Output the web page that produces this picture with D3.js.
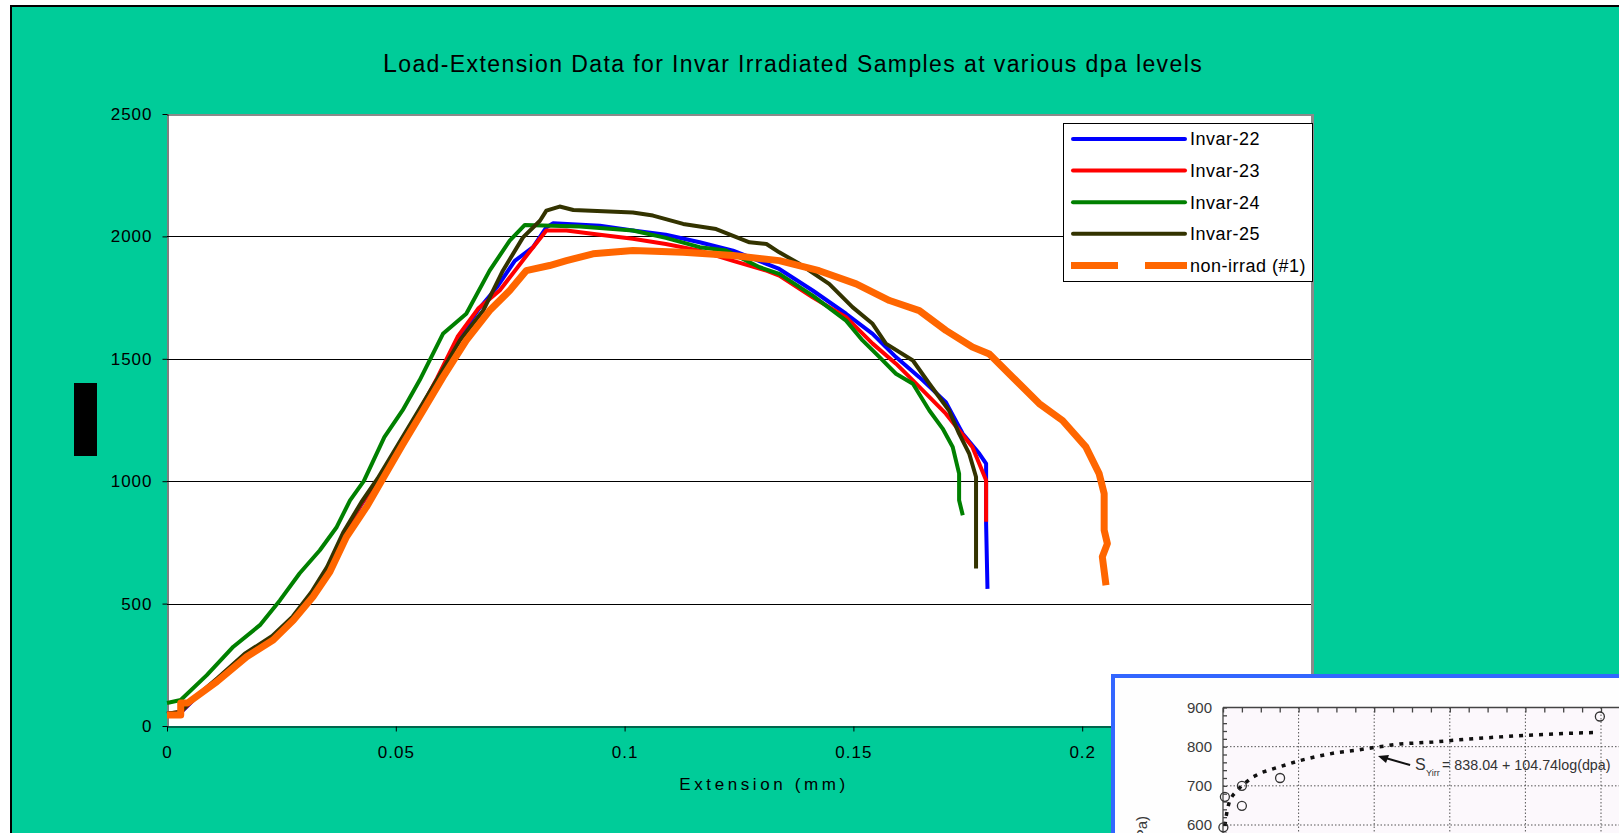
<!DOCTYPE html>
<html>
<head>
<style>
body { margin: 0; background: #fff; }
text { font-family: "Liberation Sans", Arial, sans-serif; }
</style>
<script src="https://d3js.org/d3.v7.min.js"></script>
</head>
<body>
<svg id="chart" width="1619" height="833"></svg>
<script>
// tick values
var xTicks = [0, 0.05, 0.1, 0.15, 0.2, 0.25];
var yTicks = [0, 500, 1000, 1500, 2000, 2500];
var gridValues = [500, 1000, 1500, 2000];

var seriesNames = ["Invar-22", "Invar-23", "Invar-24", "Invar-25", "non-irrad (#1)"];
var seriesColors = ["#0000ff", "#ff0000", "#008000", "#333300", "#ff6600"];

// extension (mm), load
var invar22 = [[0,50],[0.003,55],[0.006,110],[0.011,190],[0.017,290],[0.023,360],[0.0275,440],[0.0315,535],[0.035,640],[0.0385,780],[0.0425,905],[0.046,1000],[0.0505,1140],[0.055,1280],[0.0595,1420],[0.064,1590],[0.068,1700],[0.072,1790],[0.076,1900],[0.08,1956],[0.0829,2037],[0.0844,2054],[0.0946,2044],[0.1018,2024],[0.109,2007],[0.1164,1976],[0.1237,1942],[0.131,1888],[0.1338,1867],[0.1411,1779],[0.1484,1684],[0.1542,1602],[0.1593,1507],[0.1644,1425],[0.1702,1323],[0.1739,1194],[0.1775,1113],[0.179,1072],[0.179,1004],[0.179,827],[0.1793,560]];
var invar23 = [[0,50],[0.003,57],[0.006,112],[0.011,192],[0.017,292],[0.023,362],[0.0275,442],[0.0315,538],[0.035,642],[0.0385,782],[0.0425,908],[0.046,1002],[0.0505,1142],[0.055,1282],[0.059,1420],[0.0635,1590],[0.068,1705],[0.0727,1779],[0.08,1956],[0.0829,2024],[0.0873,2024],[0.0946,2007],[0.1018,1990],[0.109,1969],[0.1164,1942],[0.1237,1900],[0.131,1860],[0.1338,1840],[0.1411,1751],[0.1484,1670],[0.1542,1562],[0.1593,1480],[0.163,1412],[0.1702,1276],[0.176,1140],[0.179,1004],[0.179,834]];
var invar24 = [[0,94],[0.003,106],[0.0087,208],[0.0145,324],[0.0203,412],[0.0247,514],[0.029,624],[0.0334,718],[0.0371,813],[0.04,922],[0.043,1000],[0.0475,1180],[0.0515,1290],[0.0552,1412],[0.0603,1602],[0.0654,1684],[0.0705,1860],[0.0749,1983],[0.0782,2047],[0.0902,2040],[0.1018,2024],[0.109,1994],[0.1164,1956],[0.1222,1942],[0.1295,1874],[0.1338,1847],[0.1411,1758],[0.1484,1656],[0.152,1575],[0.1557,1507],[0.1593,1439],[0.163,1398],[0.1666,1289],[0.1695,1215],[0.1717,1140],[0.1731,1031],[0.1731,922],[0.1739,861]];
var invar25 = [[0,50],[0.003,58],[0.006,115],[0.011,195],[0.017,295],[0.023,368],[0.0275,448],[0.0315,545],[0.035,650],[0.0385,790],[0.0425,915],[0.046,1010],[0.0505,1150],[0.055,1290],[0.0589,1412],[0.064,1575],[0.0691,1697],[0.0734,1860],[0.0778,1996],[0.0815,2064],[0.0829,2105],[0.0858,2122],[0.0888,2108],[0.1018,2098],[0.1062,2085],[0.1128,2051],[0.12,2030],[0.1273,1976],[0.131,1969],[0.1338,1935],[0.1382,1888],[0.1447,1806],[0.1498,1711],[0.1542,1643],[0.1571,1562],[0.163,1493],[0.1666,1398],[0.1709,1289],[0.1731,1194],[0.1753,1113],[0.1768,1017],[0.1768,643]];
var nonIrrad = [[0,45],[0.003,45],[0.003,94],[0.0045,94],[0.0109,181],[0.0174,283],[0.0232,351],[0.0276,432],[0.0319,528],[0.0356,630],[0.0392,772],[0.0436,895],[0.047,1005],[0.0515,1150],[0.056,1290],[0.0603,1425],[0.0654,1575],[0.0705,1697],[0.0749,1779],[0.0785,1860],[0.0836,1881],[0.0873,1901],[0.0931,1929],[0.1018,1942],[0.1128,1935],[0.1237,1922],[0.1338,1901],[0.1425,1860],[0.1506,1806],[0.1579,1738],[0.1644,1697],[0.1702,1616],[0.176,1548],[0.1797,1520],[0.1848,1425],[0.1906,1317],[0.1957,1248],[0.2008,1140],[0.2037,1031],[0.2048,949],[0.2048,800],[0.2055,745],[0.2044,691],[0.2052,575]];

// pasted picture: yield stress vs dpa
var insetYTicks = [600, 700, 800, 900];
var insetGrid = [0.2, 0.4, 0.6, 0.8, 1.0];
var fitDpa    = [0.005,0.008,0.012,0.018,0.027,0.049,0.076,0.102,0.151,0.201,0.248,0.301,0.354,0.4,0.468,0.556,0.645,0.733,0.82,0.909,0.979];
var fitStress = [598,620,642,664,677,700,721,734,749,764,775,785,791,798,807,812,819,825,830,834,836];
var pointDpa    = [0.001,0.005,0.05,0.05,0.151,0.997];
var pointStress = [594,672,700,649,720,877];

var svg = d3.select("#chart");
var green = "#00cc99";

svg.append("rect").attr("x", 11).attr("y", 6).attr("width", 1700).attr("height", 900)
  .attr("fill", green).attr("stroke", "#000").attr("stroke-width", 2);

var x = d3.scaleLinear().domain([0, 0.25]).range([167, 1311]);
var y = d3.scaleLinear().domain([0, 2500]).range([726, 114]);

svg.append("rect").attr("x", x(0)).attr("y", y(2500))
  .attr("width", x(0.25) - x(0)).attr("height", y(0) - y(2500)).attr("fill", "#fff");

svg.append("line").attr("x1", x(0)).attr("x2", x(0.25) + 3).attr("y1", y(2500) + 1).attr("y2", y(2500) + 1)
  .attr("stroke", "#8a8a8a").attr("stroke-width", 2);
svg.append("line").attr("x1", x(0.25) + 1.5).attr("x2", x(0.25) + 1.5).attr("y1", y(2500)).attr("y2", y(0))
  .attr("stroke", "#8a8a8a").attr("stroke-width", 3);

svg.append("g").selectAll("line").data(gridValues).enter().append("line")
  .attr("x1", x(0)).attr("x2", x(0.25))
  .attr("y1", function(d){ return Math.round(y(d)) + 0.5; })
  .attr("y2", function(d){ return Math.round(y(d)) + 0.5; })
  .attr("stroke", "#000").attr("stroke-width", 1);

var yAxis = svg.append("g").attr("transform", "translate(" + (x(0) + 0.5) + ",0)")
  .call(d3.axisLeft(y).tickValues(yTicks).tickSize(5).tickSizeOuter(0).tickPadding(10).tickFormat(String));
var xAxis = svg.append("g").attr("transform", "translate(0," + (y(0) + 0.5) + ")")
  .call(d3.axisBottom(x).tickValues(xTicks).tickSize(5).tickSizeOuter(0).tickPadding(14).tickFormat(String));
[yAxis, xAxis].forEach(function(a){
  a.selectAll("text").attr("font-size", 17).attr("fill", "#000").style("letter-spacing", "1px")
    .attr("font-family", "Liberation Sans, Arial, sans-serif");
  a.selectAll("line, path").attr("stroke", "#000");
});

var line = d3.line().x(function(d){ return x(d[0]); }).y(function(d){ return y(d[1]); });
var allSeries = [invar22, invar23, invar24, invar25, nonIrrad];
svg.append("g").selectAll("path").data(allSeries).enter().append("path")
  .attr("d", line)
  .attr("fill", "none")
  .attr("stroke", function(d, i){ return seriesColors[i]; })
  .attr("stroke-width", function(d, i){ return i == 4 ? 7 : 4; })
  .attr("stroke-linejoin", "round");

// title and axis title
svg.append("text").attr("x", 793).attr("y", 72).attr("text-anchor", "middle")
  .attr("font-size", 23).style("letter-spacing", "1.4px")
  .html('<tspan font-size="25">L</tspan>oad-Extension Data for Invar Irradiated Samples at various dpa levels');
svg.append("text").attr("x", 764).attr("y", 790).attr("text-anchor", "middle")
  .attr("font-size", 17).style("letter-spacing", "3.6px").text("Extension (mm)");

// black box over y title
svg.append("rect").attr("x", 74).attr("y", 383).attr("width", 23).attr("height", 73).attr("fill", "#000");

// legend
var lg = svg.append("g");
lg.append("rect").attr("x", 1063.5).attr("y", 123.5).attr("width", 249).attr("height", 158)
  .attr("fill", "#fff").attr("stroke", "#000");
var rows = lg.selectAll("g").data(seriesNames).enter().append("g")
  .attr("transform", function(d, i){ return "translate(0," + (139 + i * 31.6) + ")"; });
rows.append("line").attr("x1", function(d, i){ return i == 4 ? 1071 : 1073; })
  .attr("x2", function(d, i){ return i == 4 ? 1187 : 1185; })
  .attr("stroke", function(d, i){ return seriesColors[i]; })
  .attr("stroke-width", function(d, i){ return i == 4 ? 7 : 4; })
  .attr("stroke-linecap", function(d, i){ return i == 4 ? "butt" : "round"; })
  .attr("stroke-dasharray", function(d, i){ return i == 4 ? "47,27" : null; });
rows.append("text").attr("x", 1190).attr("dy", "0.36em").attr("font-size", 18)
  .style("letter-spacing", "0.5px").text(function(d){ return d; });

// pasted picture in the corner
var ins = svg.append("g");
ins.append("rect").attr("x", 1113).attr("y", 676).attr("width", 700).attr("height", 400)
  .attr("fill", "#fefefe").attr("stroke", "#3366ff").attr("stroke-width", 4);
var ix = d3.scaleLinear().domain([0, 1]).range([1223, 1601]);
var iy = d3.scaleLinear().domain([600, 900]).range([825, 707.5]);
ins.append("rect").attr("x", ix(0)).attr("y", iy(900)).attr("width", 500).attr("height", 300).attr("fill", "#fcf8fc");
ins.append("g").selectAll("line").data(insetYTicks.slice(0, 3)).enter().append("line")
  .attr("x1", ix(0)).attr("x2", 1619).attr("y1", function(d){ return iy(d); }).attr("y2", function(d){ return iy(d); })
  .attr("stroke", "#555").attr("stroke-dasharray", "1.5,2");
ins.append("g").selectAll("line").data(insetGrid).enter().append("line")
  .attr("x1", function(d){ return ix(d); }).attr("x2", function(d){ return ix(d); })
  .attr("y1", iy(900)).attr("y2", 833)
  .attr("stroke", "#555").attr("stroke-dasharray", "1.5,2");
ins.append("g").attr("transform", "translate(0," + iy(900) + ")")
  .call(d3.axisTop(ix).tickValues(d3.range(0, 1.1, 0.05)).tickSize(-5).tickSizeOuter(0).tickFormat(""))
  .call(function(g){ g.select(".domain").attr("d", "M" + ix(0) + ",0H1619"); })
  .selectAll("line, path").attr("stroke", "#444").attr("stroke-width", 1.3);
ins.append("g").attr("transform", "translate(" + ix(0) + ",0)")
  .call(d3.axisLeft(iy).tickValues(d3.range(560, 901, 20)).tickSize(-4).tickSizeOuter(0).tickFormat(""))
  .call(function(g){ g.select(".domain").attr("d", "M0," + iy(900) + "V833"); })
  .selectAll("line, path").attr("stroke", "#444").attr("stroke-width", 1.3);
ins.append("g").selectAll("text").data(insetYTicks).enter().append("text")
  .attr("x", 1212).attr("y", function(d){ return iy(d); }).attr("dy", "0.36em")
  .attr("text-anchor", "end").attr("font-size", 15).attr("fill", "#3a3a3a").text(String);
ins.append("text").attr("transform", "translate(1147,816) rotate(-90)").attr("text-anchor", "end")
  .attr("font-size", 15).attr("fill", "#3a3a3a").text("Yield Stress (MPa)");
var fitLine = d3.line().x(function(d){ return ix(d[0]); }).y(function(d){ return iy(d[1]); });
ins.append("path").attr("d", fitLine(d3.zip(fitDpa, fitStress)))
  .attr("fill", "none").attr("stroke", "#111").attr("stroke-width", 3.5).attr("stroke-dasharray", "4,6");
ins.append("g").selectAll("circle").data(d3.zip(pointDpa, pointStress)).enter().append("circle")
  .attr("cx", function(d){ return ix(d[0]); }).attr("cy", function(d){ return iy(d[1]); })
  .attr("r", 4.5).attr("fill", "none").attr("stroke", "#333").attr("stroke-width", 1.3);
// arrow + equation
ins.append("line").attr("x1", ix(0.495)).attr("y1", iy(753)).attr("x2", ix(0.43)).attr("y2", iy(771))
  .attr("stroke", "#111").attr("stroke-width", 2);
ins.append("path").attr("d", "M" + ix(0.41) + "," + iy(776) + "l11,-1 l-3,8z").attr("fill", "#111");
ins.append("text").attr("x", 1415).attr("y", 770).attr("font-size", 16).attr("fill", "#333").text("S");
ins.append("text").attr("x", 1426).attr("y", 776).attr("font-size", 9).attr("fill", "#333").text("Yirr");
ins.append("text").attr("x", 1442).attr("y", 770).attr("font-size", 14.3).attr("fill", "#333")
  .text("= 838.04 + 104.74log(dpa)");
</script>
</body>
</html>
